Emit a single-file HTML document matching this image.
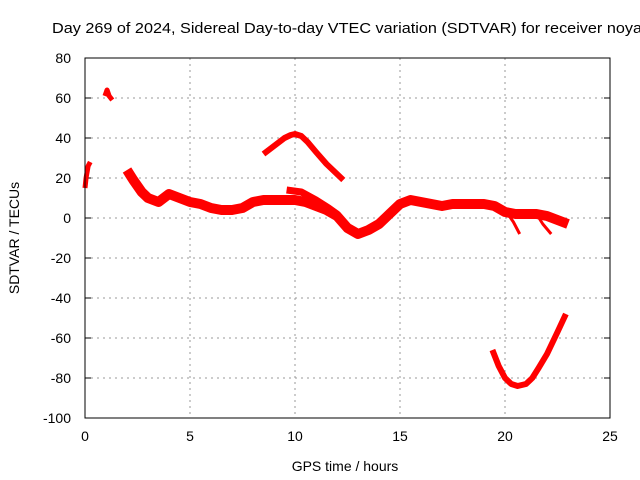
<!DOCTYPE html>
<html><head><meta charset="utf-8"><style>
body{margin:0;background:#fff}
svg{display:block;font-family:"Liberation Sans",sans-serif}
</style></head><body>
<svg id="chart" width="640" height="480">
<rect width="640" height="480" fill="#fff"/>
<text x="52" y="33" font-size="15" textLength="590" lengthAdjust="spacingAndGlyphs">Day 269 of 2024, Sidereal Day-to-day VTEC variation (SDTVAR) for receiver noya</text>
<g id="grid"></g><g id="ticks"></g><g id="series"></g>
<rect x="85" y="58" width="525" height="360" fill="none" stroke="#000" stroke-width="1"/>
<text x="345" y="471" font-size="14" text-anchor="middle">GPS time / hours</text>
<text transform="translate(19,238) rotate(-90)" font-size="14" text-anchor="middle">SDTVAR / TECUs</text>
</svg>
<script>
const xTicks=[0,5,10,15,20,25];
const yTicks=[-100,-80,-60,-40,-20,0,20,40,60,80];
const segStart=[[0.0,15],[0.05,20],[0.15,26],[0.25,28]];
const segEarly=[[0.95,61],[1.05,64],[1.15,61],[1.3,59]];
const mainHours=[2.0,2.3,2.7,3.0,3.5,4.0,4.5,5.0,5.5,6.0,6.5,7.0,7.5,8.0,8.5,9.0,9.5,10.0,10.5,11.0,11.5,12.0,12.5,13.0,13.5,14.0,14.5,15.0,15.5,16.0,16.5,17.0,17.5,18.0,18.5,19.0,19.5,20.0,20.5,21.0,21.5,22.0,22.5,23.0];
const mainValues=[24,19,13,10,8,12,10,8,7,5,4,4,5,8,9,9,9,9,8,6,4,1,-5,-8,-6,-3,2,7,9,8,7,6,7,7,7,7,6,3,2,2,2,1,-1,-3];
const arcHours=[8.5,9.0,9.5,9.8,10.0,10.3,10.6,11.0,11.5,12.0,12.3];
const arcValues=[32,36,40,41.5,42,41,38,33,27,22,19];
const lowHours=[19.4,19.7,20.0,20.3,20.6,21.0,21.3,21.6,22.0,22.5,22.9];
const lowValues=[-66,-74,-80,-83,-84,-83,-80,-75,-68,-57,-48];
const branchA=[[9.6,14],[10.3,13],[11.0,9],[11.6,5],[12.0,2],[12.3,-2]];
const branchB=[[20.0,4],[20.4,-2],[20.7,-8]];
const branchC=[[21.5,2],[21.8,-3],[22.2,-8]];
const X=h=>85+h*21, Y=v=>218-v*2;
const NS="http://www.w3.org/2000/svg";
const g=document.getElementById('grid'), t=document.getElementById('ticks'), s=document.getElementById('series');
function mk(tag,attrs,parent){const e=document.createElementNS(NS,tag);for(const k in attrs)e.setAttribute(k,attrs[k]);parent.appendChild(e);return e;}
xTicks.forEach(v=>{
 if(v>0&&v<25){const l=mk('line',{x1:X(v),x2:X(v),y1:58,y2:418,stroke:'#999','stroke-dasharray':'2,4'},g);
 
 }
 const tx=mk('text',{x:X(v),y:441,'font-size':14,'text-anchor':'middle'},t);tx.textContent=v;
 
 
});
yTicks.forEach(v=>{
 if(v>-100&&v<80){const l=mk('line',{x1:85,x2:610,y1:Y(v),y2:Y(v),stroke:'#999','stroke-dasharray':'2,4'},g);
 
 }
 mk('line',{x1:85,x2:91,y1:Y(v),y2:Y(v),stroke:'#000'},t);
 mk('line',{x1:604,x2:610,y1:Y(v),y2:Y(v),stroke:'#000'},t);
 const tx=mk('text',{x:71,y:Y(v)+5,'font-size':14,'text-anchor':'end'},t);tx.textContent=v;
 
 
});
function draw(pts,name,w){
 const p=mk('polyline',{points:pts.map(q=>X(q[0])+','+Y(q[1])).join(' '),fill:'none',stroke:'#f00','stroke-width':w,'stroke-linejoin':'round','stroke-linecap':'butt'},s);
 
 
}
const zip=(a,b)=>a.map((h,i)=>[h,b[i]]);
draw(segStart,'series-start',5);
draw(segEarly,'series-early',5);
draw(zip(mainHours,mainValues),'series-main-band',10);
draw(zip(arcHours,arcValues),'series-arc',6);
draw(zip(lowHours,lowValues),'series-low-arc',6);
draw(branchA,'series-branch-a',7);
draw(branchB,'series-branch-b',3);
draw(branchC,'series-branch-c',3);
</script>
</body></html>
